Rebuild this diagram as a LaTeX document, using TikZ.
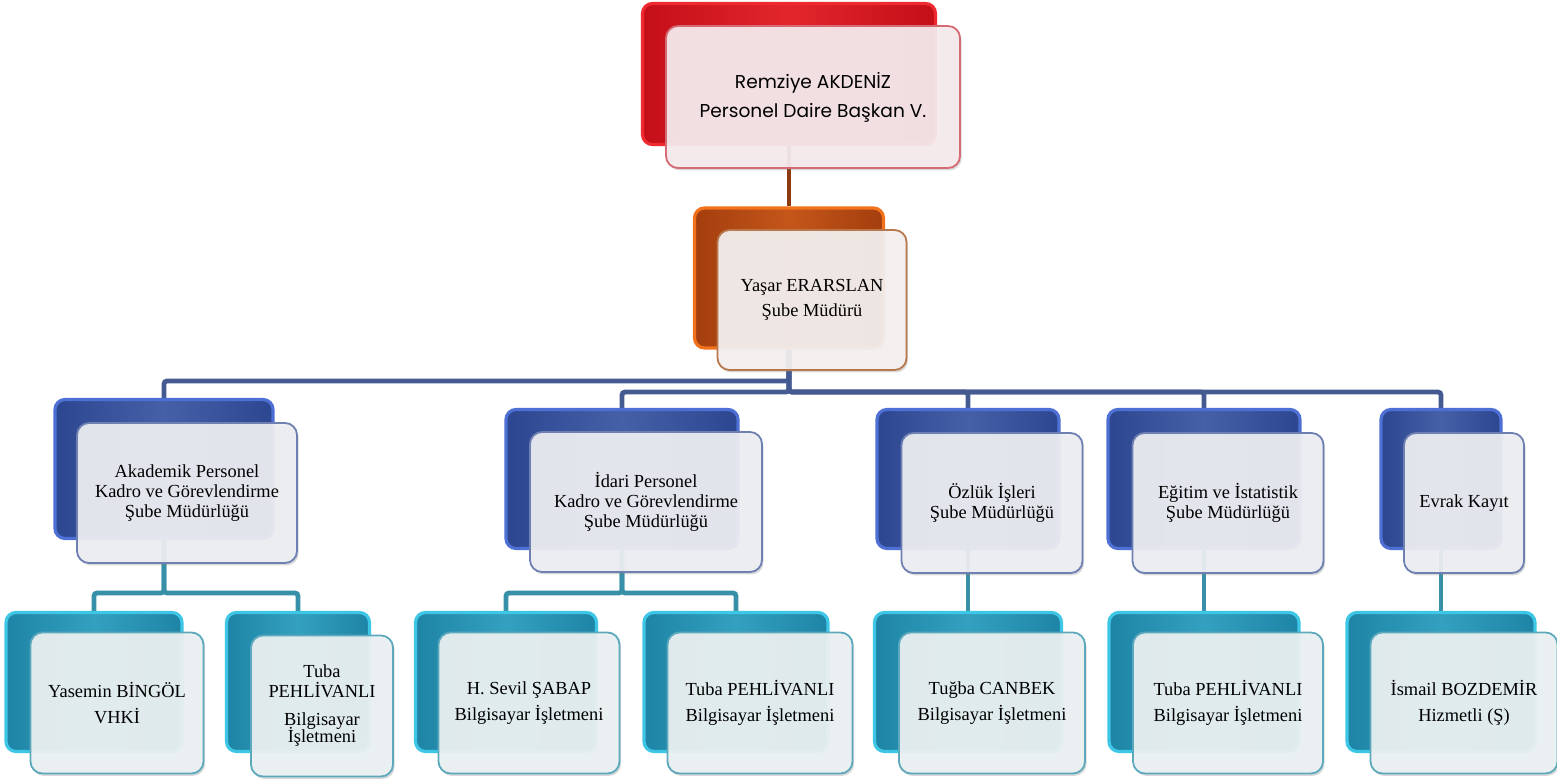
\documentclass[tikz,border=0pt]{standalone}
\usepackage{fontspec}
\setmainfont{Liberation Serif}
\newfontfamily\gothicfont{Poppins}
\usetikzlibrary{shadows,backgrounds,calc}
\definecolor{RedRim}{HTML}{EE2A30}
\definecolor{RedCore}{HTML}{C40E18}
\definecolor{RedMid}{HTML}{E2262C}
\definecolor{RedEdge}{HTML}{D66A74}
\definecolor{RedPaper}{HTML}{F6ECEE}
\definecolor{OrangeRim}{HTML}{F2721C}
\definecolor{OrangeCore}{HTML}{A43E0E}
\definecolor{OrangeMid}{HTML}{C4561A}
\definecolor{OrangeEdge}{HTML}{B8784C}
\definecolor{OrangePaper}{HTML}{F4F1F0}
\definecolor{BlueRim}{HTML}{4E70D4}
\definecolor{BlueCore}{HTML}{2C4790}
\definecolor{BlueMid}{HTML}{4660A8}
\definecolor{BlueEdge}{HTML}{6E80B2}
\definecolor{BluePaper}{HTML}{EEEFF3}
\definecolor{CyanRim}{HTML}{3EC6E6}
\definecolor{CyanCore}{HTML}{1E84A6}
\definecolor{CyanMid}{HTML}{34A0C0}
\definecolor{CyanEdge}{HTML}{5CA8BC}
\definecolor{CyanPaper}{HTML}{ECF2F3}
\definecolor{BrownLine}{HTML}{8C3A10}
\definecolor{NavyLine}{HTML}{445A90}
\definecolor{TealLine}{HTML}{3890A8}

\begin{document}
\begin{tikzpicture}[x=0.5pt,y=-0.5pt,
      back/.style={rounded corners=5pt,line width=1.6pt,inner sep=0pt},
      front/.style={rounded corners=6pt,line width=0.9pt,inner sep=2pt,align=center,
        fill opacity=0.93,text opacity=1,
        drop shadow={opacity=0.3,shadow xshift=0.8pt,shadow yshift=-1.2pt}},
      redbk/.style={back,draw=RedRim,left color=RedCore,right color=RedCore,middle color=RedMid,
        minimum height=70.5pt},
      redfr/.style={front,draw=RedEdge,fill=RedPaper,minimum height=71pt,
        font=\gothicfont\fontsize{9.3}{14.5}\selectfont},
      orangebk/.style={back,draw=OrangeRim,left color=OrangeCore,right color=OrangeCore,
        middle color=OrangeMid,minimum height=70pt},
      orangefr/.style={front,draw=OrangeEdge,fill=OrangePaper,minimum height=70pt,
        font=\fontsize{9.2}{12.5}\selectfont},
      bluebk/.style={back,draw=BlueRim,left color=BlueCore,right color=BlueCore,middle color=BlueMid,
        minimum height=69.5pt},
      bluefr/.style={front,draw=BlueEdge,fill=BluePaper,minimum height=70pt,
        font=\fontsize{9.2}{10}\selectfont},
      cyanbk/.style={back,draw=CyanRim,left color=CyanCore,right color=CyanCore,middle color=CyanMid,
        minimum height=69.5pt},
      cyanfr/.style={front,draw=CyanEdge,fill=CyanPaper,minimum height=70.5pt,
        font=\fontsize{9.2}{10}\selectfont},
      link/.style={line width=2.4pt,rounded corners=1.5pt}
    ]
      \useasboundingbox (0,0) rectangle (1557,781);
      % top
      \node[redbk,minimum width=146.5pt] (topb) at (789,74) {};
      \node[redfr,minimum width=147pt] (top) at ($(topb)+(24,23)$) {Remziye AKDENİZ\\Personel Daire Başkan V.};
      \node[orangebk,minimum width=94.5pt] (midb) at (789,278) {};
      \node[orangefr,minimum width=94.5pt] (mid) at ($(midb)+(23,22)$) {Yaşar ERARSLAN\\Şube Müdürü};
      % departments
      \node[bluebk,minimum width=109pt] (akb) at (164,469) {};
      \node[bluefr,minimum width=110pt] (ak) at ($(akb)+(23,24)$) {Akademik Personel\\Kadro ve Görevlendirme\\Şube Müdürlüğü};
      \node[bluebk,minimum width=116pt] (idb) at (622,479) {};
      \node[bluefr,minimum width=116pt] (id) at ($(idb)+(24,23)$) {İdari Personel\\Kadro ve Görevlendirme\\Şube Müdürlüğü};
      \node[bluebk,minimum width=91pt] (ozb) at (968,479) {};
      \node[bluefr,minimum width=90.5pt] (oz) at ($(ozb)+(24,24)$) {Özlük İşleri\\Şube Müdürlüğü};
      \node[bluebk,minimum width=96pt] (egb) at (1204,479) {};
      \node[bluefr,minimum width=95.5pt] (eg) at ($(egb)+(24,24)$) {Eğitim ve İstatistik\\Şube Müdürlüğü};
      \node[bluebk,minimum width=60pt] (evb) at (1441,479) {};
      \node[bluefr,minimum width=60pt] (ev) at ($(evb)+(23,24)$) {Evrak Kayıt};
      % staff
      \node[cyanbk,minimum width=88pt] (yab) at (94,682) {};
      \node[cyanfr,minimum width=86.5pt] (ya) at ($(yab)+(23,21)$) {Yasemin BİNGÖL\\[3pt]VHKİ};
      \node[cyanbk,minimum width=71.5pt] (tub1) at (298,682) {};
      \node[cyanfr,minimum width=71pt] (tu1) at ($(tub1)+(24,24)$) {Tuba\\PEHLİVANLI\\[4pt]Bilgisayar\\[-1.5pt]İşletmeni};
      \node[cyanbk,minimum width=90.5pt] (sab) at (506,682) {};
      \node[cyanfr,minimum width=90.5pt] (sa) at ($(sab)+(23,21)$) {H. Sevil ŞABAP\\[3pt]Bilgisayar İşletmeni};
      \node[cyanbk,minimum width=92pt] (tub2) at (736,682) {};
      \node[cyanfr,minimum width=92.5pt] (tu2) at ($(tub2)+(24,21)$) {Tuba PEHLİVANLI\\[3pt]Bilgisayar İşletmeni};
      \node[cyanbk,minimum width=93.5pt] (tcb) at (968,682) {};
      \node[cyanfr,minimum width=93pt] (tc) at ($(tcb)+(24,21)$) {Tuğba CANBEK\\[3pt]Bilgisayar İşletmeni};
      \node[cyanbk,minimum width=95pt] (tub3) at (1204,682) {};
      \node[cyanfr,minimum width=95pt] (tu3) at ($(tub3)+(24,21)$) {Tuba PEHLİVANLI\\[3pt]Bilgisayar İşletmeni};
      \node[cyanbk,minimum width=94pt] (isb) at (1441,682) {};
      \node[cyanfr,minimum width=93.5pt] (is) at ($(isb)+(23,21)$) {İsmail BOZDEMİR\\[3pt]Hizmetli (Ş)};
      % connectors
      \begin{scope}[on background layer]
        \draw[link,BrownLine] (topb) -- (midb);
        \draw[link,NavyLine] (midb) -- ++(0,103) -| (akb);
        \draw[link,NavyLine] (midb) -- ++(0,114) -| (idb);
        \draw[link,NavyLine] (midb) -- ++(0,114) -| (ozb);
        \draw[link,NavyLine] (midb) -- ++(0,114) -| (egb);
        \draw[link,NavyLine] (midb) -- ++(0,114) -| (evb);
        \draw[link,TealLine] (akb) -- ++(0,124) -| (yab);
        \draw[link,TealLine] (akb) -- ++(0,124) -| (tub1);
        \draw[link,TealLine] (idb) -- ++(0,114) -| (sab);
        \draw[link,TealLine] (idb) -- ++(0,114) -| (tub2);
        \draw[link,TealLine] (ozb) -- (tcb);
        \draw[link,TealLine] (egb) -- (tub3);
        \draw[link,TealLine] (evb) -- (isb);
      \end{scope}
    \end{tikzpicture}
\end{document}
